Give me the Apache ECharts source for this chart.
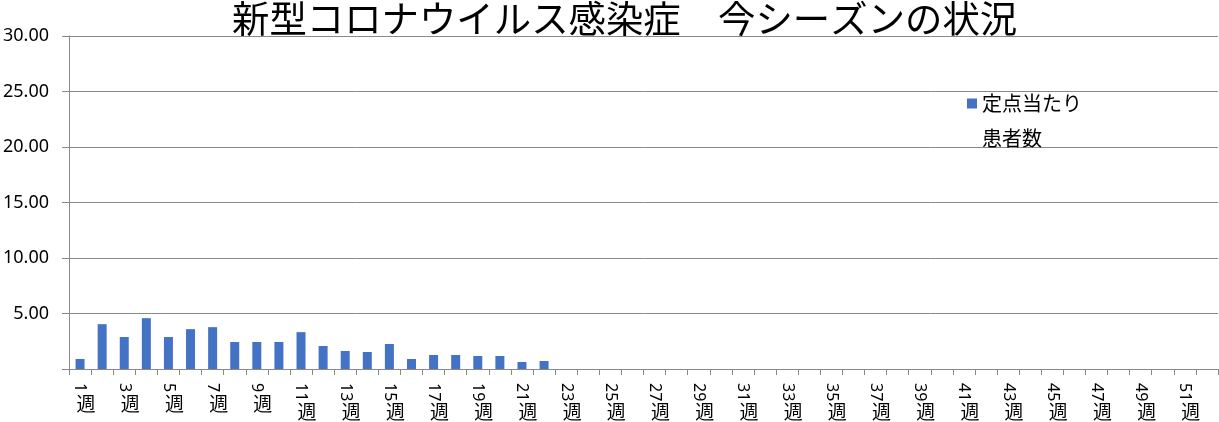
<!DOCTYPE html>
<html>
<head>
<meta charset="utf-8">
<script src="https://cdn.jsdelivr.net/npm/echarts@6/dist/echarts.min.js"></script>
<style>html,body{margin:0;padding:0;background:#fff;}#c{width:1219px;height:422px;}</style>
</head>
<body>
<div id="c"></div>
<script>
const titleText = '新型コロナウイルス感染症　今シーズンの状況';
const seriesName = '定点当たり\n患者数';
const weeks = [];
for (let i = 1; i <= 52; i++) weeks.push(i + '週');
const values = [0.90, 4.04, 2.88, 4.58, 2.88, 3.59, 3.77, 2.43, 2.43, 2.43, 3.32, 2.07, 1.62, 1.53, 2.25, 0.90, 1.26, 1.26, 1.17, 1.17, 0.63, 0.72];
const yTicks = [0, 5, 10, 15, 20, 25, 30];

const chart = echarts.init(document.getElementById('c'));
const gray = '#898989';
const num = v => v.replace('週', '');
const baseX = {
  type: 'category', data: weeks, gridIndex: 0, position: 'bottom',
  axisLine: {show: false}, axisTick: {show: false}, splitLine: {show: false}
};
chart.setOption({
  animation: false,
  title: {
    text: titleText, left: 232, top: 0, padding: 0,
    textStyle: {fontFamily: 'Noto Sans CJK JP', fontSize: 37.4, fontWeight: 'normal', color: '#000'}
  },
  legend: {
    left: 967, top: 51, padding: 0, itemWidth: 10, itemHeight: 10, icon: 'rect',
    data: [seriesName],
    formatter: n => '\n' + n,
    textStyle: {fontFamily: 'Noto Sans CJK JP', fontSize: 20, lineHeight: 35, color: '#000'}
  },
  grid: {left: 66, right: 1, top: 36, bottom: 53, containLabel: false},
  xAxis: [
    {
      type: 'category', data: weeks, position: 'bottom',
      axisLine: {show: true, lineStyle: {color: gray, width: 1}},
      axisTick: {show: true, interval: 0, length: 6, lineStyle: {color: gray}},
      axisLabel: {
        interval: 1, rotate: -90, margin: 14, color: '#000',
        fontFamily: 'Noto Sans', fontSize: 16, padding: [0, 0, 10, 0],
        formatter: v => num(v)
      }
    },
    Object.assign({}, baseX, {
      axisLabel: {
        interval: 1, margin: 25, color: '#000', fontFamily: 'Noto Sans CJK JP', fontSize: 19,
        padding: [0, 0, 0, 12],
        formatter: v => num(v).length === 1 ? '週' : ''
      }
    }),
    Object.assign({}, baseX, {
      axisLabel: {
        interval: 1, margin: 33, color: '#000', fontFamily: 'Noto Sans CJK JP', fontSize: 19,
        padding: [0, 0, 0, 12],
        formatter: v => num(v).length === 2 ? '週' : ''
      }
    })
  ],
  yAxis: {
    type: 'value', min: yTicks[0], max: yTicks[yTicks.length - 1], interval: 5,
    axisLine: {show: true, lineStyle: {color: gray}},
    axisTick: {show: true, length: 7, lineStyle: {color: gray}},
    splitLine: {show: true, lineStyle: {color: gray, width: 1}},
    axisLabel: {
      margin: 20, color: '#000', fontFamily: 'Noto Sans', fontSize: 18,
      formatter: v => v === 0 ? '' : v.toFixed(2)
    }
  },
  series: [{
    name: seriesName, type: 'bar', xAxisIndex: 0, data: values, barWidth: 9,
    itemStyle: {color: '#4472C4'}
  }]
});
</script>
</body>
</html>
